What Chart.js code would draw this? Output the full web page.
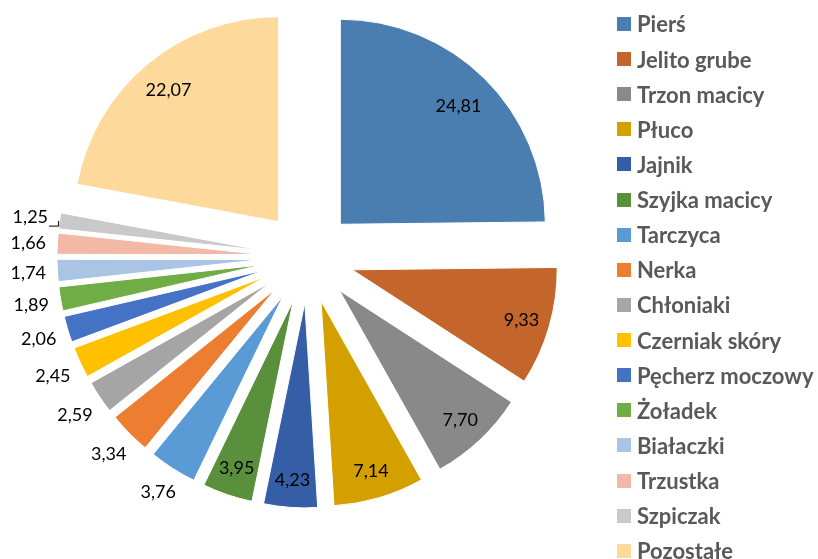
<!DOCTYPE html>
<html><head><meta charset="utf-8">
<script src="https://cdn.jsdelivr.net/npm/chart.js@4.4.1/dist/chart.umd.min.js"></script>
<style>
html,body{margin:0;padding:0;background:#fff;overflow:hidden;}
#wrap{position:relative;width:818px;height:559px;}
#c{position:absolute;left:0;top:0;}
#legend{position:absolute;left:617px;top:6.4px;margin:0;padding:0;list-style:none;font:bold 22px Lato, sans-serif;color:#595959;}
#legend li{height:35.13px;display:flex;align-items:center;white-space:nowrap;}
#legend .box{width:14px;height:14px;margin-right:6px;display:inline-block;flex:none;}
</style></head><body>
<div id="wrap"><canvas id="c" width="818" height="559"></canvas><ul id="legend"></ul></div>
<script>
const categories = ['Pierś','Jelito grube','Trzon macicy','Płuco','Jajnik','Szyjka macicy','Tarczyca','Nerka','Chłoniaki','Czerniak skóry','Pęcherz moczowy','Żoładek','Białaczki','Trzustka','Szpiczak','Pozostałe'];
const values = [24.81, 9.33, 7.70, 7.14, 4.23, 3.95, 3.76, 3.34, 2.59, 2.45, 2.06, 1.89, 1.74, 1.66, 1.25, 22.07];
const valueLabels = ['24,81','9,33','7,70','7,14','4,23','3,95','3,76','3,34','2,59','2,45','2,06','1,89','1,74','1,66','1,25','22,07'];
const colors = ['#4A7EB0','#C4652B','#898989','#D4A000','#355EA6','#5A8F3B','#5B9BD5','#ED7D31','#A5A5A5','#FFC000','#4472C4','#70AD47','#AAC4E5','#F3B9A6','#C9C9C9','#FED99C'];

const EXPLODE = 46;
const INSIDE_MIN = 3.8;
const insideFrac = {0: 0.82, 15: 0.84};

const explodePlugin = {
  id: 'explode',
  afterDatasetsUpdate(chart) {
    const meta = chart.getDatasetMeta(0);
    const a = chart.chartArea;
    const cx = (a.left + a.right) / 2, cy = (a.top + a.bottom) / 2;
    meta.data.forEach(arc => {
      const mid = (arc.startAngle + arc.endAngle) / 2;
      arc.x = cx + Math.cos(mid) * EXPLODE;
      arc.y = cy + Math.sin(mid) * EXPLODE;
    });
  }
};

const labelPlugin = {
  id: 'valueLabels',
  afterDatasetsDraw(chart) {
    const ctx = chart.ctx;
    const meta = chart.getDatasetMeta(0);
    ctx.save();
    ctx.font = '18px Lato, sans-serif';
    ctx.fillStyle = '#000';
    ctx.textAlign = 'center';
    ctx.textBaseline = 'middle';
    meta.data.forEach((arc, i) => {
      const mid = (arc.startAngle + arc.endAngle) / 2;
      const dx = Math.cos(mid), dy = Math.sin(mid);
      const R = arc.outerRadius;
      const txt = valueLabels[i];
      let r, w = ctx.measureText(txt).width;
      if (values[i] >= INSIDE_MIN) {
        r = R * (insideFrac[i] !== undefined ? insideFrac[i] : 0.86);
      } else {
        const h = 15;
        r = R + 11 + Math.abs(dx) * w / 2 + Math.abs(dy) * h / 2;
      }
      const lx = arc.x + dx * r, ly = arc.y + dy * r + 1;
      ctx.fillText(txt, lx, ly);
      if (i === values.length - 2) {
        // short leader line from the label to its slice
        const ex = arc.x + dx * R, ey = arc.y + dy * R;
        ctx.strokeStyle = '#000';
        ctx.lineWidth = 1;
        ctx.beginPath();
        ctx.moveTo(lx + w / 2 + 1, ly + 8.5);
        ctx.lineTo(ex - 1, ly + 8.5);
        ctx.lineTo(ex - 1, ey);
        ctx.stroke();
      }
    });
    ctx.restore();
  }
};

new Chart(document.getElementById('c'), {
  type: 'pie',
  data: {
    labels: categories,
    datasets: [{
      data: values,
      backgroundColor: colors,
      borderColor: '#ffffff',
      borderWidth: 1
    }]
  },
  options: {
    responsive: false,
    animation: false,
    radius: 205,
    layout: { padding: { left: 0, top: 0, right: 202, bottom: 45 } },
    plugins: { legend: { display: false }, tooltip: { enabled: false } }
  },
  plugins: [explodePlugin, labelPlugin]
});

const ul = document.getElementById('legend');
categories.forEach((c, i) => {
  const li = document.createElement('li');
  const b = document.createElement('span');
  b.className = 'box';
  b.style.background = colors[i];
  li.appendChild(b);
  li.appendChild(document.createTextNode(c));
  ul.appendChild(li);
});
</script>
</body></html>
